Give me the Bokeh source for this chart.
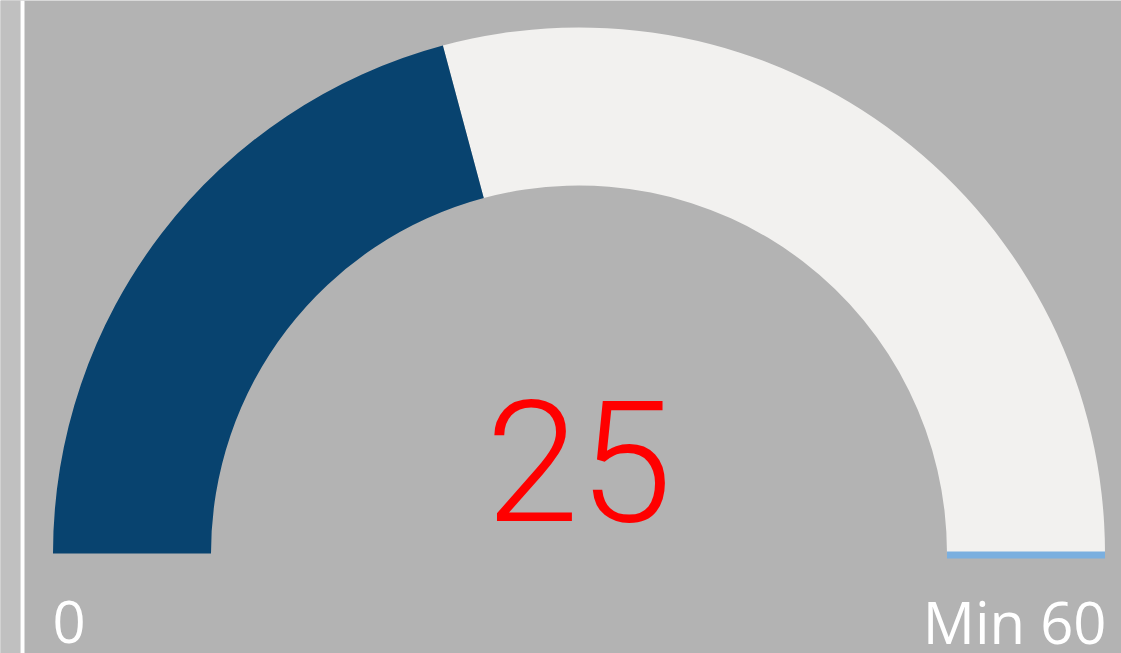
import math
from bokeh.plotting import figure
from bokeh.models import Range1d
from bokeh.core.properties import value
from bokeh.embed import file_html
from bokeh.resources import INLINE

# data
gauge_value = 25
gauge_min = 0
gauge_max = 60
min_label = "0"
max_label = "Min 60"

W, H = 1121, 653
p = figure(width=W, height=H, output_backend="svg", toolbar_location=None,
           x_range=Range1d(0, W), y_range=Range1d(0, H),
           min_border=0, outline_line_color=None)
p.axis.visible = False
p.grid.visible = False
p.background_fill_color = "#b3b3b3"
p.border_fill_color = "#b3b3b3"

# left strip and white separator
p.quad(left=0, right=20, bottom=0, top=H, fill_color="#c0c0c0", line_color=None)
p.quad(left=20, right=24, bottom=0, top=H, fill_color="#ffffff", line_color=None)

cx, cy = 578.5, 100
r_out, r_in = 526, 368
frac = (gauge_value - gauge_min) / (gauge_max - gauge_min)
split = math.pi * (1 - frac)

p.annular_wedge(x=cx, y=cy, inner_radius=r_in, outer_radius=r_out,
                start_angle=0, end_angle=split, fill_color="#f2f1ef", line_color=None)
p.annular_wedge(x=cx, y=cy, inner_radius=r_in, outer_radius=r_out,
                start_angle=split, end_angle=math.pi, fill_color="#08436f", line_color=None)

# light blue base line under the remainder
p.quad(left=cx + r_in, right=cx + r_out, bottom=95, top=102, fill_color="#7aafdf", line_color=None)

p.text(x=[cx], y=[193], text=[str(gauge_value)], text_color="#ff0000",
       text_font=value("Roboto Light"), text_font_size="168px",
       text_align="center", text_baseline="alphabetic")
p.text(x=[52], y=[32], text=[min_label], text_color="#ffffff",
       text_font=value("Open Sans"), text_font_size="58px",
       text_align="left", text_baseline="alphabetic")
p.text(x=[1106], y=[32], text=[max_label], text_color="#ffffff",
       text_font=value("Open Sans"), text_font_size="58px",
       text_align="right", text_baseline="alphabetic")

open("out.html", "w").write(file_html(p, INLINE))
